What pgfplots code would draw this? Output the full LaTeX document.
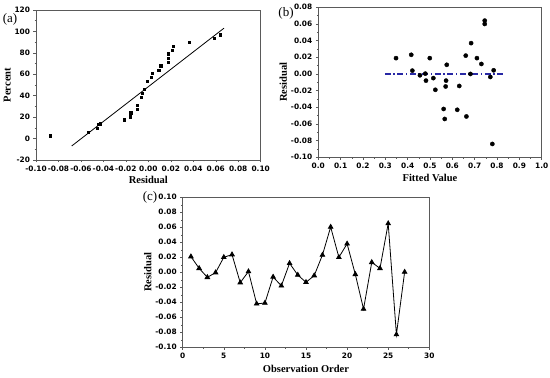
\documentclass[border=0pt]{standalone}
\usepackage{fontspec}
\setmainfont{Liberation Serif}
\newfontfamily\tickfont{DejaVu Sans}
\usepackage{pgfplots}
\pgfplotsset{compat=1.18}
\definecolor{dashblue}{RGB}{40,40,165}
\definecolor{frame}{RGB}{90,90,90}
\pgfplotsset{
  myax/.style={
    scale only axis, anchor=south west,
    axis line style={draw=frame, line width=0.6pt},
    every tick/.style={frame, line width=0.5pt},
    tick align=outside, major tick length=2.5pt, minor tick length=1.3pt,
    xtick pos=bottom, ytick pos=left,
    minor x tick num=1, minor y tick num=1,
    /pgf/number format/assume math mode=true,
    tick label style={font=\tickfont\bfseries\fontsize{7.4}{8}\selectfont, text=black},
    label style={font=\bfseries\fontsize{10.5}{12}\selectfont},
    clip=false,
  }
}
\begin{document}
\begin{tikzpicture}[x=1pt,y=1pt]
\path[use as bounding box] (0,0) rectangle (550,378);
% (a)
\begin{axis}[myax, at={(36pt,218pt)}, width=224.7pt, height=150pt,
  xmin=-0.1, xmax=0.1, ymin=-20, ymax=120,
  xtick={-0.1,-0.08,...,0.1}, ytick={-20,0,...,120},
  xticklabel style={/pgf/number format/.cd, fixed, fixed zerofill, precision=2},
  xlabel={Residual}, ylabel={Percent},
  xlabel style={yshift=2.5pt}, ylabel style={yshift=-3pt}]
\addplot[black, line width=0.8pt] coordinates {(-0.0682,-6.9) (0.0674,103.1)};
\addplot[only marks, mark=square*, mark size=1.25pt, black] coordinates {
(-0.0875,2.5) (-0.0534,5.9) (-0.0454,9.6) (-0.0445,13.3) (-0.0430,14.0)
(-0.0216,17.4) (-0.0163,20.5) (-0.0157,24.2) (-0.0098,27.6) (-0.0098,31.1)
(-0.0065,38.5) (-0.0053,42.3) (-0.0035,46.0) (-0.0012,53.5) (0.0027,57.2)
(0.0033,60.9) (0.0092,64.0) (0.0110,67.8) (0.0178,71.5) (0.0178,75.0)
(0.0178,79.0) (0.0211,82.7) (0.0220,86.4) (0.0362,89.9) (0.0587,93.6)
(0.0638,97.0)};
\end{axis}
% (b)
\begin{axis}[myax, at={(318.3pt,220.7pt)}, width=223.4pt, height=150pt,
  xmin=0, xmax=1, ymin=-0.1, ymax=0.08,
  xtick={0,0.1,...,1.0}, ytick={-0.1,-0.08,...,0.08},
  xticklabel style={/pgf/number format/.cd, fixed, fixed zerofill, precision=1},
  yticklabel style={/pgf/number format/.cd, fixed, fixed zerofill, precision=2},
  xlabel={Fitted Value}, ylabel={Residual},
  xlabel style={yshift=1.5pt}, ylabel style={yshift=-3pt}]
\addplot[dashblue, line width=1.1pt, dash pattern=on 6pt off 2.5pt on 1.5pt off 2.5pt] coordinates {(0.298,0) (0.835,0)};
\addplot[only marks, mark=*, mark size=2.1pt, black] coordinates {
(0.348,0.019) (0.416,0.023) (0.421,0.004) (0.455,-0.0016) (0.479,0.0004)
(0.482,-0.008) (0.499,0.019) (0.515,-0.005) (0.524,-0.019) (0.561,-0.042)
(0.566,-0.054) (0.570,-0.015) (0.572,-0.008) (0.575,0.011) (0.622,-0.043)
(0.631,-0.0144) (0.660,0.022) (0.663,-0.051) (0.681,0.000) (0.684,0.037)
(0.710,0.019) (0.730,0.012) (0.745,0.064) (0.745,0.060) (0.770,-0.0036)
(0.779,-0.084) (0.785,0.0044)};
\end{axis}
% (c)
\begin{axis}[myax, at={(182.7pt,30.7pt)}, width=246.6pt, height=150pt,
  xmin=0, xmax=30, ymin=-0.1, ymax=0.1,
  xtick={0,5,...,30}, ytick={-0.1,-0.08,...,0.1},
  yticklabel style={/pgf/number format/.cd, fixed, fixed zerofill, precision=2},
  xlabel={Observation Order}, ylabel={Residual},
  xlabel style={yshift=1pt}, ylabel style={yshift=-3pt}]
\addplot[black, line width=0.8pt, mark=triangle*, mark size=2.6pt, mark options={solid}] coordinates {
(1,0.0209) (2,0.0053) (3,-0.0067) (4,-0.0004) (5,0.020) (6,0.0236)
(7,-0.0138) (8,0.001) (9,-0.042) (10,-0.041) (11,-0.0062) (12,-0.018)
(13,0.012) (14,-0.0036) (15,-0.0133) (16,-0.0044) (17,0.023) (18,0.0604)
(19,0.020) (20,0.038) (21,-0.0027) (22,-0.049) (23,0.0133) (24,0.0053)
(25,0.065) (26,-0.083) (27,0.0004)};
\end{axis}
\node[font=\fontsize{13}{14}\selectfont] at (10,359) {(a)};
\node[font=\fontsize{13}{14}\selectfont] at (286,365) {(b)};
\node[font=\fontsize{13}{14}\selectfont] at (150,181) {(c)};
\end{tikzpicture}
\end{document}
